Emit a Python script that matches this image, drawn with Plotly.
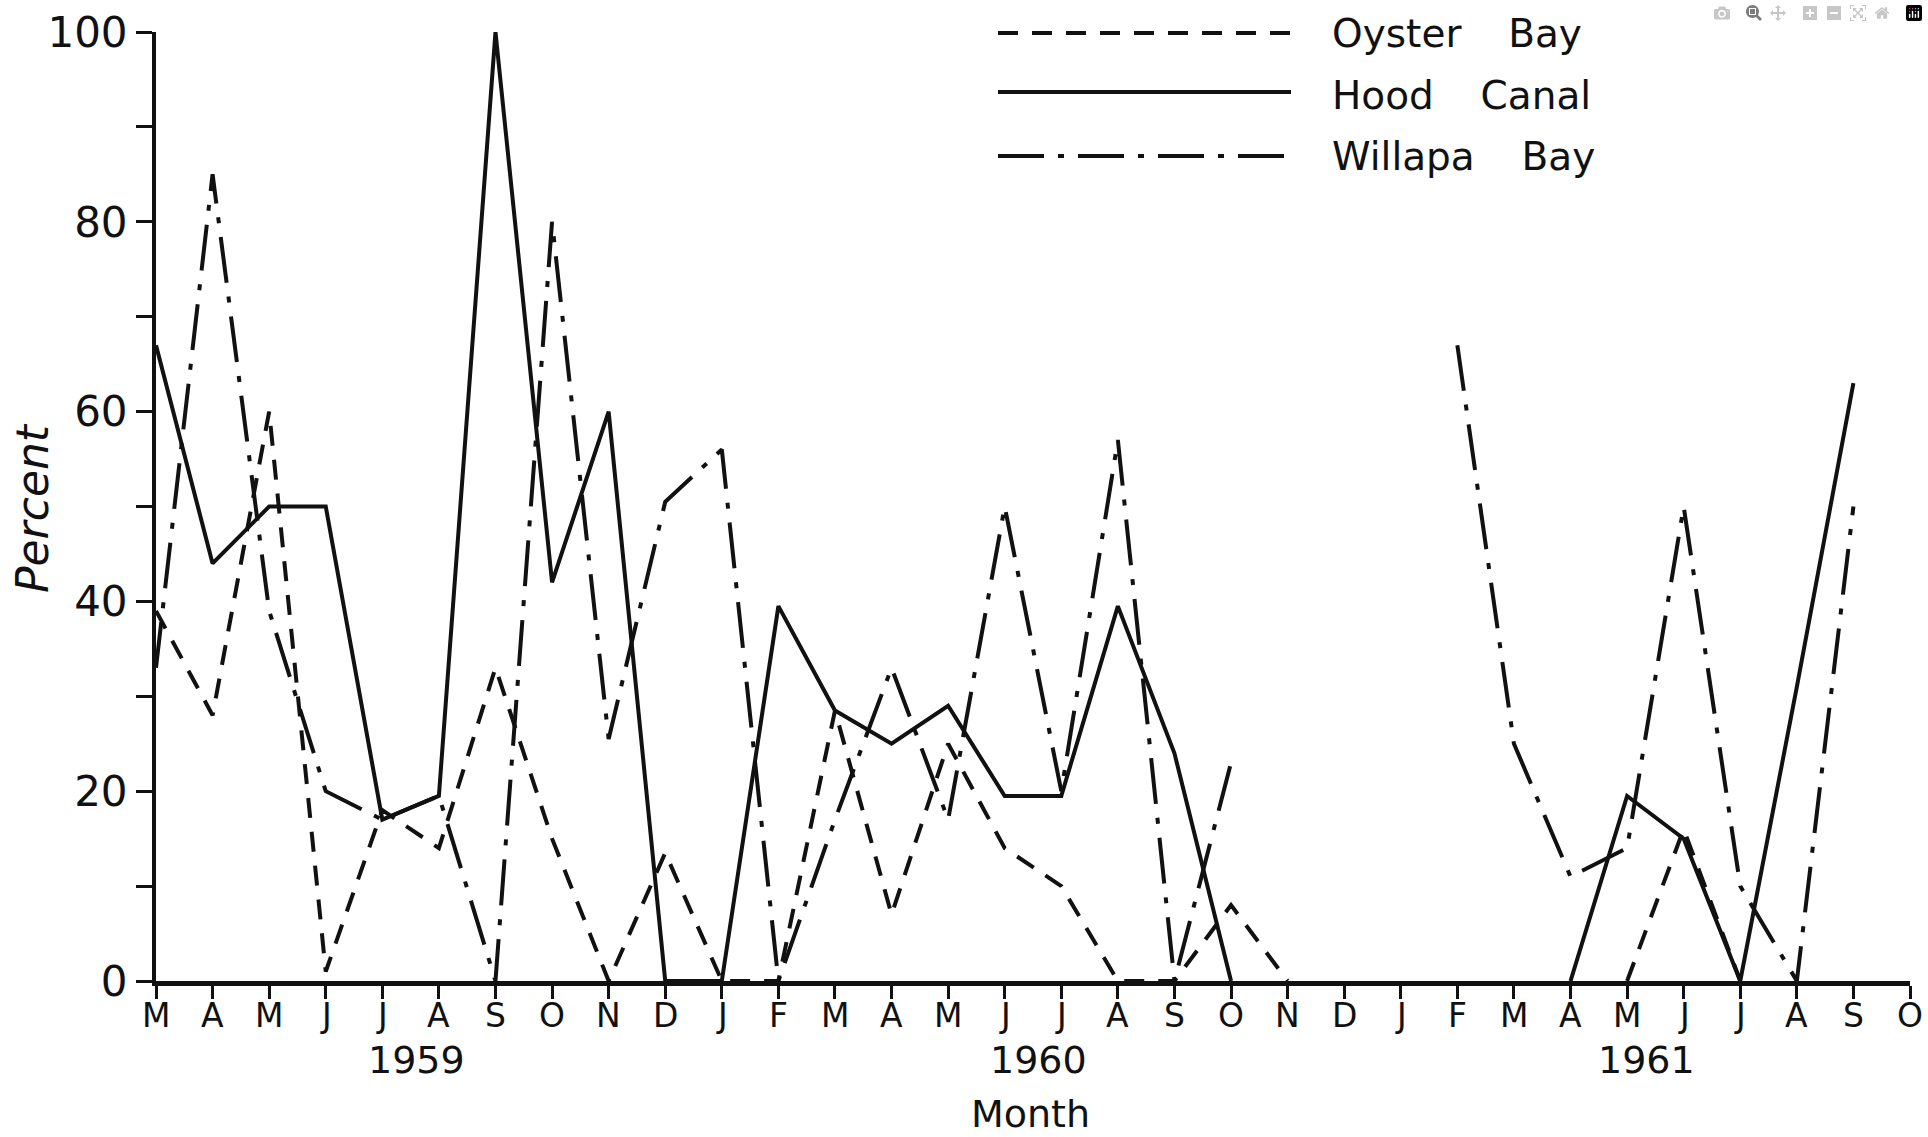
import plotly.graph_objects as go

# ---- data ----
months = ["M", "A", "M", "J", "J", "A", "S", "O", "N", "D", "J", "F",
          "M", "A", "M", "J", "J", "A", "S", "O", "N", "D", "J", "F",
          "M", "A", "M", "J", "J", "A", "S", "O"]
month_idx = list(range(len(months)))

oyster_bay = [39, 28, 60, 1, 18, 14, 33, 15, 0, 13.5, 0, 0,
              28.5, 7, 25, 14, 10, 0, 0, 8, 0, None, None, None,
              None, None, 0, 16, 0, None, None, None]
hood_canal = [67, 44, 50, 50, 17, 19.5, 100, 42, 60, 0, 0, 39.5,
              28.5, 25, 29, 19.5, 19.5, 39.5, 24, 0, None, None, None, None,
              None, 0, 19.5, 15, 0, 31, 63, None]
willapa_bay = [33, 85, 39, 20, 17, 19.5, 0, 80, 25.5, 50.5, 56, 0,
               17, 33, 17, 50, 20, 57, 0, 23, None, None, None, 67,
               25, 11, 14, 50, 10, 0, 50, None]

year_labels = ["1959", "1960", "1961"]
year_pos = [4.61, 15.6, 26.35]

y_ticks = list(range(0, 101, 10))
y_ticktext = [str(v) if v % 20 == 0 else "" for v in y_ticks]

series_names = ["Oyster Bay", "Hood Canal", "Willapa Bay"]

# ---- layout geometry (pixels) ----
W, H = 1928, 1137
ML, MR, MT, MB = 156, 18, 32, 156
PW, PH = W - ML - MR, H - MT - MB
AX0 = H - MB  # y pixel of the x axis


def px(xpix):
    return (xpix - ML) / PW


def py(ypix):
    return (AX0 - ypix) / PH


# ---- styles ----
INK = "#111111"
DASH = "20px,14px"
DASHDOT = "46px,14px,6px,14px"
TXT_FONT = "DejaVu Sans, sans-serif"

fig = go.Figure()
for vals, dash in [(oyster_bay, DASH), (hood_canal, "solid"), (willapa_bay, DASHDOT)]:
    fig.add_trace(go.Scatter(x=month_idx, y=vals, mode="lines",
                             line=dict(color=INK, width=4, dash=dash),
                             connectgaps=False, showlegend=False,
                             hoverinfo="skip"))

annotations = []
# month tick labels
for i, m in zip(month_idx, months):
    annotations.append(dict(x=i, y=py(1015), xref="x", yref="paper", text=m,
                            showarrow=False, font=dict(size=33, color=INK, family=TXT_FONT),
                            xanchor="center", yanchor="middle"))
# year labels
for lab, pos in zip(year_labels, year_pos):
    annotations.append(dict(x=pos, y=py(1060), xref="x", yref="paper", text=lab,
                            showarrow=False, font=dict(size=38, color=INK, family=TXT_FONT),
                            xanchor="center", yanchor="middle"))
annotations.append(dict(x=px(1030), y=py(1114), xref="paper", yref="paper",
                        text="Month", showarrow=False,
                        font=dict(size=38, color=INK, family=TXT_FONT),
                        xanchor="center", yanchor="middle"))
annotations.append(dict(x=px(32), y=py(508), xref="paper", yref="paper",
                        text="<i>Percent</i>", textangle=-90, showarrow=False,
                        font=dict(size=44, color=INK, family=TXT_FONT),
                        xanchor="center", yanchor="middle"))

legend_y = [py(33), py(92), py(156)]
legend_text_y = [py(34), py(96), py(157)]
legend_dash = [DASH, "solid", DASHDOT]
shapes = []
for name, ly, ty, dsh in zip(series_names, legend_y, legend_text_y, legend_dash):
    shapes.append(dict(type="line", xref="paper", yref="paper",
                       x0=px(998), x1=px(1291), y0=ly, y1=ly,
                       line=dict(color=INK, width=4, dash=dsh)))
    annotations.append(dict(x=px(1330), y=ty, xref="paper", yref="paper",
                            text=name.replace(" ", "\u2003\u2009"), showarrow=False,
                            font=dict(size=39, color=INK, family=TXT_FONT),
                            xanchor="left", yanchor="middle"))

fig.update_layout(
    width=W, height=H,
    margin=dict(l=ML, r=MR, t=MT, b=MB, autoexpand=False),
    paper_bgcolor="white", plot_bgcolor="white",
    showlegend=False,
    annotations=annotations,
    shapes=shapes,
    xaxis=dict(range=[0, 31], tickmode="array", tickvals=month_idx,
               showticklabels=False, automargin=False,
               ticks="outside", ticklen=13, tickwidth=3, tickcolor=INK,
               showline=True, linewidth=5, linecolor=INK,
               showgrid=False, zeroline=False),
    yaxis=dict(range=[0, 100], tickmode="array", tickvals=y_ticks, ticktext=y_ticktext,
               automargin=False,
               ticks="outside", ticklen=16, tickwidth=3, tickcolor=INK,
               showline=True, linewidth=4, linecolor=INK,
               showgrid=False, zeroline=False,
               tickfont=dict(size=42, color=INK, family=TXT_FONT)),
)

fig.write_html("out.html", post_script="document.body.style.margin='0px';")
